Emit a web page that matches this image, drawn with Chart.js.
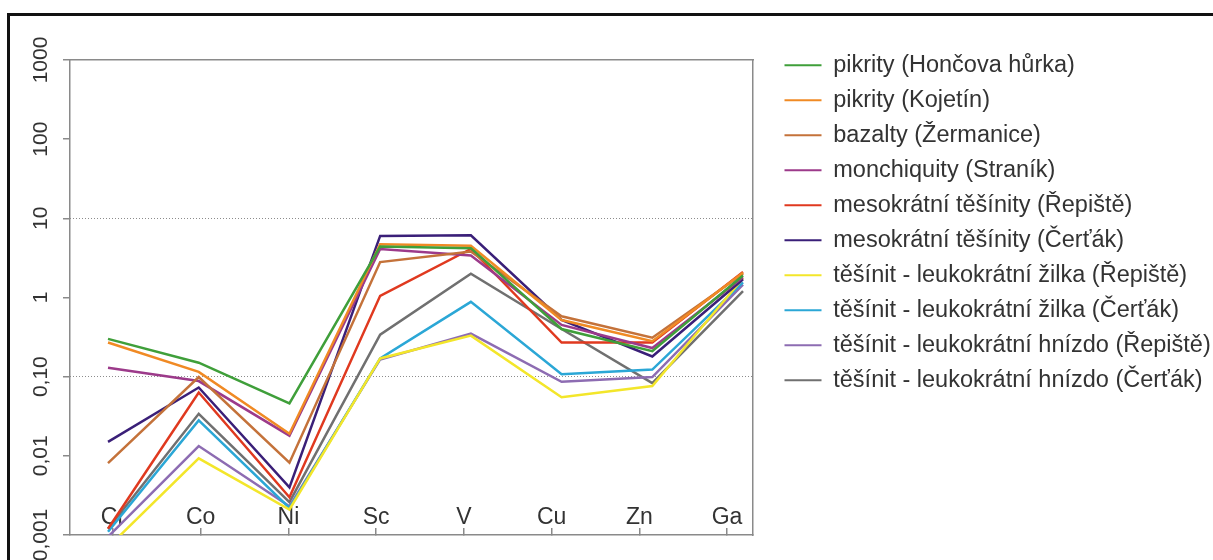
<!DOCTYPE html>
<html lang="cs">
<head>
    <meta charset="UTF-8">
    <title>Normalizované obsahy prvků</title>
    <script src="https://cdn.jsdelivr.net/npm/chart.js"></script>
    <style>
        html, body {
            margin: 0;
            padding: 0;
            background: #fff;
            overflow: hidden;
        }
        .frame {
            position: absolute;
            left: 7px;
            top: 13px;
            width: 1300px;
            height: 700px;
            border: 3px solid #111;
        }
        #chart {
            position: absolute;
            left: 0;
            top: 0;
        }
    </style>
</head>
<body>
    <div class="frame"></div>
    <canvas id="chart" width="1213" height="560"></canvas>

    <script>
        // kategorie a popisky os
        const elements = ['Cr', 'Co', 'Ni', 'Sc', 'V', 'Cu', 'Zn', 'Ga'];
        const yTicks = [0.001, 0.01, 0.1, 1, 10, 100, 1000];
        const yTickLabels = ['0,001', '0,01', '0,10', '1', '10', '100', '1000'];

        // hodnoty jednotlivych serii (Cr, Co, Ni, Sc, V, Cu, Zn, Ga)
        const pikrityHoncova   = [0.30, 0.15, 0.046, 4.4, 4.2, 0.40, 0.21, 1.9];
        const pikrityKojetin   = [0.27, 0.115, 0.019, 4.7, 4.5, 0.52, 0.28, 2.05];
        const bazaltyZermanice = [0.0081, 0.099, 0.0082, 2.8, 3.8, 0.58, 0.31, 2.0];
        const monchiquity      = [0.13, 0.088, 0.018, 4.1, 3.4, 0.45, 0.23, 1.8];
        const mesoRepiste      = [0.0012, 0.063, 0.003, 1.05, 4.1, 0.27, 0.27, 2.1];
        const mesoCertak       = [0.015, 0.073, 0.004, 6.0, 6.1, 0.52, 0.18, 1.7];
        const zilkaRepiste     = [0.0007, 0.0093, 0.0021, 0.17, 0.33, 0.055, 0.076, 1.75];
        const zilkaCertak      = [0.0011, 0.028, 0.0022, 0.17, 0.88, 0.107, 0.123, 1.55];
        const hnizdoRepiste    = [0.00095, 0.0133, 0.0023, 0.165, 0.35, 0.086, 0.099, 1.45];
        const hnizdoCertak     = [0.0012, 0.034, 0.0026, 0.34, 2.0, 0.40, 0.083, 1.2];

        const seriesNames = [
            'pikrity (Hončova hůrka)',
            'pikrity (Kojetín)',
            'bazalty (Žermanice)',
            'monchiquity (Straník)',
            'mesokrátní těšínity (Řepiště)',
            'mesokrátní těšínity (Čerťák)',
            'těšínit - leukokrátní žilka (Řepiště)',
            'těšínit - leukokrátní žilka (Čerťák)',
            'těšínit - leukokrátní hnízdo (Řepiště)',
            'těšínit - leukokrátní hnízdo (Čerťák)'
        ];
        const seriesValues = [
            pikrityHoncova, pikrityKojetin, bazaltyZermanice, monchiquity, mesoRepiste,
            mesoCertak, zilkaRepiste, zilkaCertak, hnizdoRepiste, hnizdoCertak
        ];
        const seriesColors = [
            '#3f9f3a', '#f08a24', '#c4723a', '#9c3a8a', '#e0391f',
            '#3a1f78', '#f3e62a', '#2ba7d6', '#8d6cb2', '#707070'
        ];

        Chart.defaults.font.family = 'Arial, "Liberation Sans", sans-serif';
        Chart.defaults.color = '#333';

        const datasets = seriesNames.map((name, i) => ({
            label: name,
            data: seriesValues[i].map((v, j) => ({ x: j + 1, y: v })),
            borderColor: seriesColors[i],
            backgroundColor: seriesColors[i],
            borderWidth: 2.5,
            pointRadius: 0,
            tension: 0,
            xAxisID: 'x',
            yAxisID: 'y'
        }));

        const axisGrey = '#8a8a8a';

        new Chart(document.getElementById('chart').getContext('2d'), {
            type: 'line',
            data: { datasets },
            options: {
                responsive: false,
                animation: false,
                devicePixelRatio: 1,
                layout: { padding: { top: 42, right: 0, bottom: 0, left: 0 } },
                plugins: {
                    tooltip: { enabled: false },
                    legend: {
                        position: 'right',
                        align: 'start',
                        maxWidth: 440,
                        labels: {
                            font: { size: 23.5 },
                            color: '#333',
                            boxWidth: 37,
                            boxHeight: 2,
                            padding: 11.5,
                            generateLabels: chart => Chart.defaults.plugins.legend.labels.generateLabels(chart)
                                .map(item => ({ ...item, fillStyle: item.strokeStyle, lineWidth: 0 }))
                        }
                    }
                },
                scales: {
                    // skala pro data
                    x: {
                        type: 'linear',
                        position: 'bottom',
                        display: false,
                        min: 0.581,
                        max: 8.11
                    },
                    // popisky prvku uvnitr grafu
                    xLab: {
                        type: 'linear',
                        position: 'bottom',
                        min: 0.51,
                        max: 8.296,
                        afterBuildTicks: s => { s.ticks = elements.map((e, i) => ({ value: i + 1 })); },
                        afterFit: s => { s.height = 25; },
                        grid: {
                            drawOnChartArea: false,
                            drawTicks: true,
                            tickLength: -7,
                            color: axisGrey,
                            lineWidth: 1.5
                        },
                        border: { color: axisGrey, width: 1.5 },
                        ticks: {
                            autoSkip: false,
                            maxRotation: 0,
                            mirror: true,
                            padding: 4,
                            font: { size: 23 },
                            color: '#333',
                            callback: (v, i) => elements[i]
                        }
                    },
                    xTop: {
                        type: 'linear',
                        position: 'top',
                        min: 0,
                        max: 1,
                        afterFit: s => { s.height = 18; },
                        grid: { display: false },
                        border: { color: axisGrey, width: 1.5 },
                        ticks: { display: false }
                    },
                    y: {
                        type: 'logarithmic',
                        position: 'left',
                        min: 0.001,
                        max: 1000,
                        afterBuildTicks: s => { s.ticks = yTicks.map(v => ({ value: v })); },
                        afterFit: s => { s.width = 70; },
                        grid: {
                            drawOnChartArea: false,
                            tickLength: 7,
                            color: axisGrey,
                            lineWidth: 1.5
                        },
                        border: { color: axisGrey, width: 1.5 },
                        ticks: {
                            autoSkip: false,
                            minRotation: 90,
                            maxRotation: 90,
                            crossAlign: 'center',
                            padding: -4,
                            font: { size: 21 },
                            color: '#333',
                            callback: (v, i) => yTickLabels[i]
                        }
                    },
                    // teckovane vodici cary na 10 a 0,10
                    yR: {
                        type: 'logarithmic',
                        position: 'right',
                        min: 0.001,
                        max: 1000,
                        afterBuildTicks: s => { s.ticks = yTicks.map(v => ({ value: v })); },
                        afterFit: s => { s.width = 20; },
                        grid: {
                            drawTicks: false,
                            lineWidth: 1,
                            color: ctx => (ctx.tick && (ctx.tick.value === 10 || ctx.tick.value === 0.1)) ? '#8c8c8c' : 'rgba(0,0,0,0)'
                        },
                        border: { color: axisGrey, width: 1.5, dash: [1, 2] },
                        ticks: { display: false }
                    }
                }
            }
        });
    </script>
</body>
</html>
